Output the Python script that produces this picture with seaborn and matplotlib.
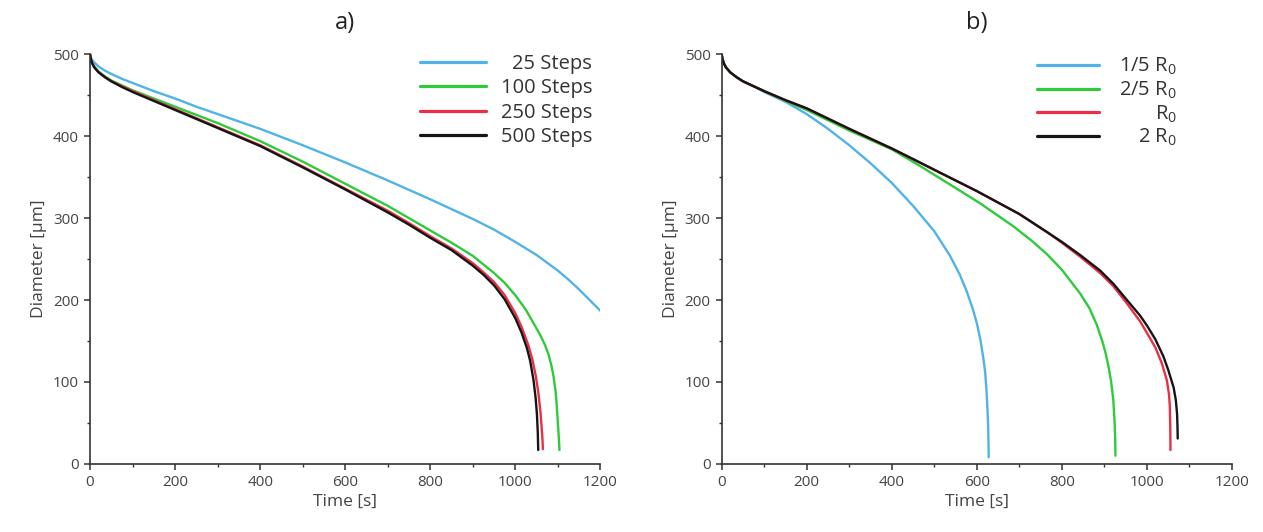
import matplotlib
matplotlib.use("Agg")
import matplotlib.pyplot as plt
from matplotlib.ticker import MultipleLocator
import seaborn as sns
import pandas as pd

# ---------------- data: panel a (number of steps) ----------------
t_25 = [0, 2, 5, 10, 20, 35, 50, 75, 100, 150, 200, 250, 300, 400, 500, 600, 700, 800, 900, 950, 1000, 1050, 1100, 1125, 1150, 1175, 1200]
d_25 = [500, 496, 493, 490, 485, 480, 476, 470, 465, 455, 446, 436, 427, 409, 389, 368, 346, 323, 299, 286, 271, 255, 236, 225, 213, 200, 187]

t_100 = [0, 2, 5, 10, 20, 35, 50, 75, 100, 150, 200, 250, 300, 400, 500, 600, 700, 750, 800, 850, 900, 950, 975, 1000, 1025, 1045, 1060, 1070, 1078, 1085, 1090, 1095, 1098, 1101, 1103, 1104]
d_100 = [500, 494, 489, 485, 479, 473, 468, 462, 456, 446, 436, 426, 416, 394, 369, 342, 315, 300, 285, 270, 254, 233, 221, 206, 188, 170, 156, 145, 134, 120, 107, 88, 68, 44, 27, 17]

t_250 = [0, 2, 5, 10, 20, 35, 50, 75, 100, 150, 200, 250, 300, 400, 500, 600, 700, 750, 800, 850, 900, 925, 950, 975, 1000, 1015, 1030, 1040, 1048, 1054, 1059, 1062, 1064, 1065]
d_250 = [500, 494, 489, 484, 478, 472, 467, 461, 455, 444, 433, 422, 411, 389, 363, 336, 309, 294, 278, 263, 245, 234, 222, 206, 184, 167, 146, 128, 108, 88, 65, 45, 30, 18]

t_500 = [0, 2, 5, 10, 20, 35, 50, 75, 100, 150, 200, 250, 300, 400, 500, 600, 700, 750, 800, 850, 900, 925, 950, 975, 1000, 1015, 1027, 1035, 1043, 1048, 1051, 1053, 1054]
d_500 = [500, 494, 489, 484, 478, 472, 467, 460, 454, 443, 432, 421, 410, 388, 362, 335, 307, 292, 276, 261, 242, 231, 218, 201, 178, 160, 142, 126, 102, 80, 60, 38, 17]

labels_a = ["25 Steps", "100 Steps", "250 Steps", "500 Steps"]

# ---------------- data: panel b (initial radius) ----------------
t_r15 = [0, 2, 5, 10, 20, 35, 50, 75, 100, 150, 200, 250, 300, 350, 400, 450, 500, 537, 560, 576, 590, 600, 609, 616, 620, 623, 625, 627, 628]
d_r15 = [500, 494, 489, 484, 478, 472, 467, 461, 454, 442, 427, 409, 389, 367, 343, 315, 284, 254, 231, 211, 190, 172, 150, 127, 110, 88, 68, 40, 8]

t_r25 = [0, 2, 5, 10, 20, 35, 50, 75, 100, 150, 200, 300, 400, 459, 537, 608, 686, 730, 765, 800, 843, 865, 882, 895, 903, 910, 916, 921, 924, 925.5, 926]
d_r25 = [500, 494, 489, 484, 478, 472, 467, 461, 455, 443, 432, 407, 384, 366, 341, 318, 290, 272, 256, 237, 208, 190, 170, 150, 135, 118, 100, 78, 52, 30, 10]

t_r1 = [0, 2, 5, 10, 20, 35, 50, 75, 100, 150, 200, 300, 400, 458, 500, 600, 700, 765, 800, 843, 890, 921, 950, 984, 1000, 1020, 1035, 1047, 1052, 1054, 1055, 1055.5]
d_r1 = [500, 494, 489, 484, 478, 472, 467, 461, 455, 444, 434, 409, 385, 370, 359, 333, 305, 283, 270, 253, 233, 217, 198, 174, 160, 142, 123, 102, 85, 70, 45, 17]

t_r2 = [0, 2, 5, 10, 20, 35, 50, 75, 100, 150, 200, 300, 400, 458, 500, 600, 700, 765, 800, 843, 890, 921, 950, 984, 1000, 1020, 1039, 1050, 1063, 1068, 1071, 1072, 1072.5]
d_r2 = [500, 494, 489, 484, 478, 472, 467, 461, 455, 444, 434, 409, 385, 370, 359, 333, 305, 283, 271, 255, 236, 220, 202, 181, 169, 152, 131, 115, 93, 78, 61, 45, 31]

labels_b = ["1/5 R$_0$", "2/5 R$_0$", "R$_0$", "2 R$_0$"]

colors = ["#4FB3E8", "#2DCB3A", "#EC2D43", "#151515"]

# ---------------- style ----------------
sns.set_theme(style="ticks")
plt.rcParams["font.family"] = ["Open Sans", "DejaVu Sans"]
plt.rcParams["mathtext.default"] = "regular"

fig = plt.figure(figsize=(12.63, 5.32), dpi=100)
ax_a = fig.add_axes([0.0713, 0.128, 0.404, 0.770])
ax_b = fig.add_axes([0.5714, 0.128, 0.404, 0.770])


def build(ts, ds, labels):
    frames = []
    for t, d, lab in zip(ts, ds, labels):
        frames.append(pd.DataFrame({"Time": t, "Diameter": d, "series": lab}))
    return pd.concat(frames, ignore_index=True)


df_a = build([t_25, t_100, t_250, t_500], [d_25, d_100, d_250, d_500], labels_a)
df_b = build([t_r15, t_r25, t_r1, t_r2], [d_r15, d_r25, d_r1, d_r2], labels_b)

# (axis, data, labels, title, legend anchor, handlelength, handletextpad, labelspacing)
panels = [(ax_a, df_a, labels_a, "a)", (1.0, 1.02), 3.25, 0.75, 0.21),
          (ax_b, df_b, labels_b, "b)", (0.908, 1.015), 3.1, 1.0, 0.11)]

for ax, df, labels, title, anchor, hlen, tpad, lsp in panels:
    sns.lineplot(data=df, x="Time", y="Diameter", hue="series", hue_order=labels,
                 palette=colors, estimator=None, sort=False, linewidth=1.7, ax=ax)
    ax.set_xlim(0, 1200)
    ax.set_ylim(0, 500)
    ax.xaxis.set_major_locator(MultipleLocator(200))
    ax.xaxis.set_minor_locator(MultipleLocator(100))
    ax.yaxis.set_major_locator(MultipleLocator(100))
    ax.yaxis.set_minor_locator(MultipleLocator(50))
    ax.tick_params(which="major", direction="out", length=4, width=1.1, colors="#333333",
                   labelsize=11, labelcolor="#444444", pad=4)
    ax.tick_params(which="minor", direction="out", length=2.5, width=1.0, colors="#333333")
    for s in ["top", "right"]:
        ax.spines[s].set_visible(False)
    for s in ["left", "bottom"]:
        ax.spines[s].set_color("#333333")
        ax.spines[s].set_linewidth(1.2)
    ax.set_xlabel("Time [s]", fontsize=12.5, color="#444444", labelpad=3)
    ax.set_ylabel("Diameter [µm]", fontsize=12.5, color="#444444", labelpad=4)
    ax.set_title(title, fontsize=17, color="#222222", pad=18)

    leg = ax.legend(loc="upper right", bbox_to_anchor=anchor,
                    frameon=False, fontsize=14.5, handlelength=hlen, handletextpad=tpad,
                    labelspacing=lsp, borderaxespad=0.0)
    for h in leg.get_lines():
        h.set_linewidth(2.3)
    for txt in leg.get_texts():
        txt.set_color("#333333")

# right-align legend texts (shift narrower labels right)
fig.canvas.draw()
renderer = fig.canvas.get_renderer()
for ax in (ax_a, ax_b):
    texts = ax.get_legend().get_texts()
    widths = [t.get_window_extent(renderer).width for t in texts]
    wmax = max(widths)
    for t, w in zip(texts, widths):
        t.set_position((wmax - w, 0))

fig.savefig("out.png", dpi=100)
